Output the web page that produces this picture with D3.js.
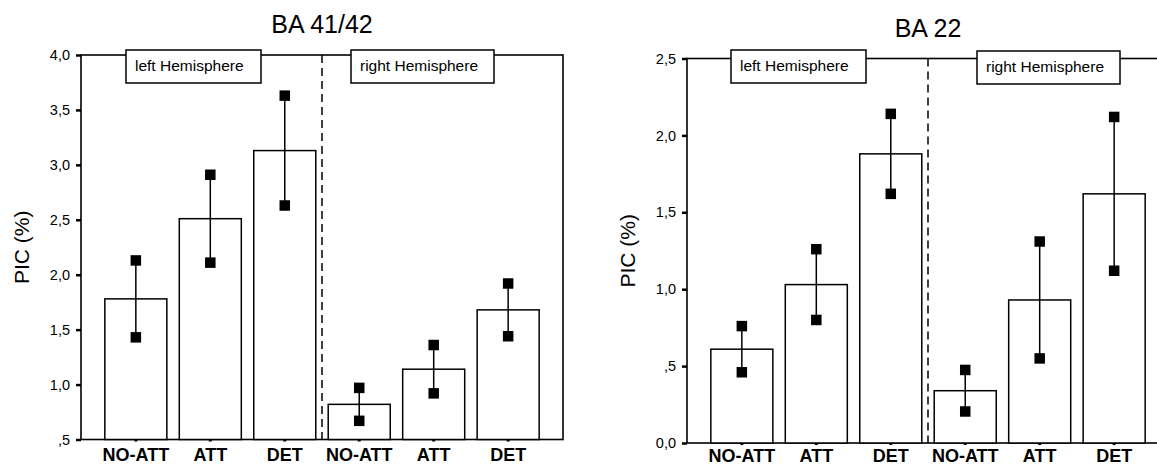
<!DOCTYPE html>
<html>
<head>
<meta charset="utf-8">
<script src="https://cdn.jsdelivr.net/npm/d3@7"></script>
<style>
  body { margin: 0; background: #fff; }
  svg { display: block; font-family: 'Liberation Sans', Arial, sans-serif; }
</style>
</head>
<body>
<svg id="chart"></svg>
<script>
'use strict';
const CATEGORIES = ['NO-ATT', 'ATT', 'DET', 'NO-ATT', 'ATT', 'DET'];
const HEMISPHERES = ['left Hemisphere', 'right Hemisphere'];

// BA 41/42 : mean PIC (%) and error half-width
const BA4142_MEAN = [1.78, 2.51, 3.13, 0.82, 1.14, 1.68];
const BA4142_ERR = [0.35, 0.40, 0.50, 0.15, 0.22, 0.24];
const BA4142_TICKS = [0.5, 1.0, 1.5, 2.0, 2.5, 3.0, 3.5, 4.0];
const BA4142_TICK_LABELS = [',5', '1,0', '1,5', '2,0', '2,5', '3,0', '3,5', '4,0'];

// BA 22
const BA22_MEAN = [0.61, 1.03, 1.88, 0.34, 0.93, 1.62];
const BA22_ERR = [0.15, 0.23, 0.26, 0.135, 0.38, 0.50];
const BA22_TICKS = [0.0, 0.5, 1.0, 1.5, 2.0, 2.5];
const BA22_TICK_LABELS = ['0,0', ',5', '1,0', '1,5', '2,0', '2,5'];

const WIDTH = 1157,
      HEIGHT = 467,
      PLOT_WIDTH = 482,
      PLOT_HEIGHT = 384.5,
      MARKER = 10.5;

let svg = d3.select('#chart')
  .attr('width', WIDTH)
  .attr('height', HEIGHT);

function drawPanel(opts) {
  let x0 = opts.left, y0 = opts.top;
  let g = svg.append('g');

  let xScale = d3.scaleBand()
    .domain(d3.range(CATEGORIES.length))
    .range([x0, x0 + PLOT_WIDTH])
    .paddingInner(0.167)
    .paddingOuter(0.32);
  let yScale = d3.scaleLinear()
    .domain(opts.domain)
    .range([y0 + PLOT_HEIGHT, y0]);

  let data = opts.mean.map(function(m, i) {
    return { i: i, mean: m, err: opts.err[i] };
  });

  // frame
  g.append('rect')
    .attr('x', x0)
    .attr('y', y0)
    .attr('width', PLOT_WIDTH)
    .attr('height', PLOT_HEIGHT)
    .attr('fill', 'none')
    .attr('stroke', '#000')
    .attr('stroke-width', 1.6);

  // bars
  g.selectAll('rect.bar')
    .data(data)
    .enter()
    .append('rect')
    .attr('class', 'bar')
    .attr('x', function(d) { return xScale(d.i) })
    .attr('y', function(d) { return yScale(d.mean) })
    .attr('width', xScale.bandwidth())
    .attr('height', function(d) { return yScale(opts.domain[0]) - yScale(d.mean) })
    .attr('fill', '#fff')
    .attr('stroke', '#000')
    .attr('stroke-width', 1.5);

  // error bars
  let cx = function(d) { return xScale(d.i) + xScale.bandwidth() / 2 };
  g.selectAll('line.err')
    .data(data)
    .enter()
    .append('line')
    .attr('class', 'err')
    .attr('x1', cx)
    .attr('x2', cx)
    .attr('y1', function(d) { return yScale(d.mean + d.err) })
    .attr('y2', function(d) { return yScale(d.mean - d.err) })
    .attr('stroke', '#000')
    .attr('stroke-width', 1.5);

  [1, -1].forEach(function(sign) {
    g.selectAll(null)
      .data(data)
      .enter()
      .append('rect')
      .attr('x', function(d) { return cx(d) - MARKER / 2 })
      .attr('y', function(d) { return yScale(d.mean + sign * d.err) - MARKER / 2 })
      .attr('width', MARKER)
      .attr('height', MARKER)
      .attr('fill', '#000');
  });

  // dashed hemisphere separator
  let sepX = (cx(data[2]) + cx(data[3])) / 2;
  g.append('line')
    .attr('x1', sepX)
    .attr('x2', sepX)
    .attr('y1', y0)
    .attr('y2', y0 + PLOT_HEIGHT)
    .attr('stroke', '#000')
    .attr('stroke-width', 1.5)
    .attr('stroke-dasharray', '8,5');

  // y axis
  let yAxis = d3.axisLeft(yScale)
    .tickValues(opts.ticks)
    .tickFormat(function(d, i) { return opts.tickLabels[i] })
    .tickSizeInner(5)
    .tickSizeOuter(0)
    .tickPadding(6);
  let yg = g.append('g')
    .attr('transform', 'translate(' + x0 + ',0)')
    .call(yAxis);
  yg.select('.domain').remove();
  yg.selectAll('line').attr('stroke-width', 2.5);
  yg.selectAll('text')
    .attr('font-size', 14.5)
    .attr('font-family', "'Liberation Sans', Arial, sans-serif")
    .attr('fill', '#000');

  // x axis
  let xAxis = d3.axisBottom(xScale)
    .tickFormat(function(d) { return CATEGORIES[d] })
    .tickSizeInner(2)
    .tickSizeOuter(0)
    .tickPadding(opts.xLabelPad);
  let xg = g.append('g')
    .attr('transform', 'translate(0,' + (y0 + PLOT_HEIGHT) + ')')
    .call(xAxis);
  xg.select('.domain').remove();
  xg.selectAll('line').attr('stroke-width', 3);
  xg.selectAll('text')
    .attr('font-size', 18)
    .attr('font-weight', 'bold')
    .attr('font-family', "'Liberation Sans', Arial, sans-serif")
    .attr('fill', '#000');

  // hemisphere labels
  HEMISPHERES.forEach(function(label, i) {
    let bx = x0 + opts.boxes[i][0], by = opts.boxes[i][1];
    g.append('rect')
      .attr('x', bx)
      .attr('y', by)
      .attr('width', opts.boxes[i][2])
      .attr('height', 33)
      .attr('fill', '#fff')
      .attr('stroke', '#000')
      .attr('stroke-width', 1.5);
    g.append('text')
      .attr('x', bx + 9)
      .attr('y', by + 21)
      .attr('font-size', 15.5)
      .text(label);
  });

  // title
  g.append('text')
    .attr('x', x0 + PLOT_WIDTH / 2)
    .attr('y', y0 - 22)
    .attr('text-anchor', 'middle')
    .attr('font-size', 25)
    .text(opts.title);

  // y label
  g.append('text')
    .attr('transform', 'translate(' + (x0 - 52) + ',' + (y0 + PLOT_HEIGHT / 2) + ') rotate(-90)')
    .attr('text-anchor', 'middle')
    .attr('font-size', 21)
    .text('PIC (%)');
}

drawPanel({
  title: 'BA 41/42',
  left: 81,
  top: 55,
  domain: [0.5, 4.0],
  mean: BA4142_MEAN,
  err: BA4142_ERR,
  ticks: BA4142_TICKS,
  tickLabels: BA4142_TICK_LABELS,
  xLabelPad: 7,
  boxes: [[45, 50, 135], [270, 50, 143]]
});

drawPanel({
  title: 'BA 22',
  left: 687,
  top: 58.5,
  domain: [0, 2.5],
  mean: BA22_MEAN,
  err: BA22_ERR,
  ticks: BA22_TICKS,
  tickLabels: BA22_TICK_LABELS,
  xLabelPad: 4.5,
  boxes: [[44, 50, 135], [290, 51, 143]]
});
</script>
</body>
</html>
